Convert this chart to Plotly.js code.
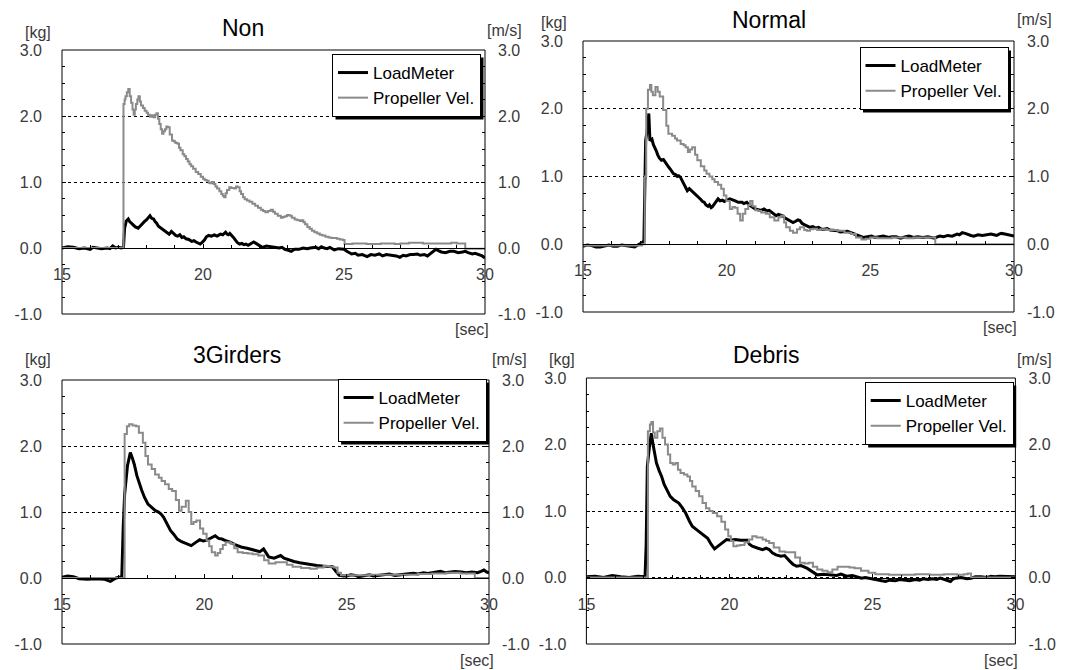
<!DOCTYPE html>
<html>
<head>
<meta charset="utf-8">
<script src="https://cdn.plot.ly/plotly-3.0.1.min.js"></script>
<style>html,body{margin:0;padding:0;background:#fff;}#chart{width:1066px;height:670px;}</style>
</head>
<body>
<div id="chart"></div>
<script>
// ---------------- DATA (time [sec], LoadMeter [kg], Propeller Vel. [m/s]) ----------------
const panelTitles = ["Non", "Normal", "3Girders", "Debris"];
const seriesNames = ["LoadMeter", "Propeller Vel."];
const xTicks = [15, 20, 25, 30];
const yTickVals = [-1, 0, 1, 2, 3];
const yTickText = ["-1.0", "0.0", "1.0", "2.0", "3.0"];

const nonLoadT = [15.0,15.2,15.4,15.6,15.8,16.0,16.1,16.3,16.4,16.6,16.7,16.8,16.9,17.0,17.1,17.18,17.22,17.28,17.35,17.4,17.45,17.52,17.6,17.7,17.78,17.85,17.92,18.0,18.06,18.12,18.18,18.25,18.3,18.35,18.42,18.48,18.55,18.6,18.7,18.8,18.88,18.95,19.03,19.1,19.18,19.25,19.32,19.4,19.5,19.6,19.68,19.75,19.83,19.9,19.98,20.05,20.12,20.2,20.3,20.4,20.5,20.62,20.7,20.8,20.85,20.9,20.95,21.0,21.08,21.15,21.22,21.3,21.38,21.45,21.52,21.6,21.7,21.8,21.88,21.95,22.02,22.1,22.25,22.4,22.55,22.7,22.8,22.9,23.0,23.13,23.25,23.4,23.55,23.7,23.8,23.9,24.0,24.1,24.2,24.3,24.4,24.5,24.66,24.8,24.9,25.0,25.1,25.2,25.27,25.4,25.5,25.65,25.82,25.95,26.1,26.25,26.37,26.5,26.7,26.85,26.98,27.1,27.2,27.35,27.47,27.6,27.7,27.85,27.96,28.05,28.1,28.2,28.26,28.35,28.45,28.6,28.75,28.9,29.05,29.2,29.3,29.4,29.55,29.65,29.8,29.9,30.0];
const nonLoadV = [0.00,0.02,0.01,-0.01,0.00,-0.02,0.01,0.00,-0.01,0.00,-0.01,0.03,0.00,0.01,0.00,0.01,0.30,0.41,0.44,0.40,0.38,0.35,0.32,0.30,0.34,0.36,0.40,0.43,0.46,0.49,0.45,0.44,0.40,0.38,0.33,0.31,0.30,0.28,0.24,0.21,0.25,0.22,0.19,0.18,0.20,0.16,0.17,0.14,0.13,0.10,0.11,0.09,0.07,0.06,0.09,0.12,0.17,0.19,0.18,0.20,0.18,0.21,0.20,0.24,0.21,0.20,0.22,0.19,0.16,0.12,0.08,0.06,0.07,0.05,0.06,0.04,0.07,0.09,0.07,0.05,0.03,0.01,0.03,0.02,0.00,0.00,0.01,-0.02,-0.03,-0.05,-0.02,-0.02,0.00,-0.01,0.00,0.01,0.01,-0.01,0.02,0.00,-0.01,0.01,-0.03,-0.01,-0.02,-0.02,-0.05,-0.07,-0.09,-0.08,-0.11,-0.10,-0.13,-0.10,-0.11,-0.09,-0.12,-0.10,-0.11,-0.12,-0.14,-0.11,-0.12,-0.10,-0.10,-0.09,-0.11,-0.10,-0.12,-0.09,-0.08,-0.04,-0.02,-0.04,-0.06,-0.07,-0.05,-0.05,-0.07,-0.06,-0.05,-0.07,-0.09,-0.08,-0.10,-0.12,-0.15];
const nonPropT = [15.0,17.16,17.18,17.22,17.25,17.3,17.35,17.4,17.45,17.5,17.54,17.58,17.62,17.67,17.71,17.76,17.8,17.87,17.93,18.0,18.05,18.12,18.18,18.24,18.3,18.35,18.4,18.45,18.5,18.55,18.6,18.65,18.7,18.75,18.82,18.9,18.95,19.0,19.05,19.1,19.15,19.2,19.28,19.34,19.4,19.46,19.52,19.58,19.65,19.74,19.83,19.92,20.0,20.06,20.13,20.2,20.25,20.32,20.38,20.44,20.5,20.58,20.65,20.7,20.75,20.8,20.85,20.93,21.0,21.1,21.17,21.23,21.3,21.35,21.42,21.48,21.56,21.65,21.75,21.85,21.95,22.05,22.13,22.21,22.3,22.4,22.48,22.55,22.65,22.76,22.83,22.9,22.98,23.07,23.15,23.25,23.35,23.44,23.5,23.56,23.62,23.7,23.78,23.86,23.95,24.05,24.14,24.23,24.34,24.45,24.55,24.66,24.75,24.85,24.96,25.02,25.3,25.5,25.8,26.0,26.3,26.5,26.8,27.0,27.3,27.5,27.8,28.0,28.3,28.5,28.8,29.0,29.28,29.3,30.0];
const nonPropV = [0.00,0.00,2.18,2.25,2.30,2.36,2.41,2.30,2.20,2.10,2.02,2.10,2.18,2.25,2.30,2.22,2.16,2.12,2.08,2.05,2.02,1.99,2.01,1.98,2.02,2.04,1.96,1.88,1.80,1.73,1.77,1.80,1.84,1.83,1.72,1.63,1.62,1.60,1.59,1.58,1.52,1.48,1.42,1.39,1.35,1.31,1.27,1.24,1.20,1.15,1.12,1.08,1.05,1.03,1.02,0.99,0.98,1.00,0.97,0.93,0.90,0.86,0.82,0.79,0.77,0.83,0.88,0.92,0.91,0.90,0.93,0.92,0.86,0.82,0.77,0.74,0.72,0.70,0.67,0.64,0.61,0.58,0.56,0.54,0.56,0.58,0.55,0.52,0.49,0.46,0.47,0.48,0.50,0.49,0.46,0.43,0.42,0.41,0.42,0.39,0.36,0.32,0.29,0.26,0.24,0.22,0.20,0.19,0.17,0.16,0.15,0.15,0.14,0.13,0.12,0.06,0.07,0.07,0.06,0.06,0.07,0.07,0.06,0.07,0.08,0.08,0.07,0.07,0.07,0.07,0.08,0.07,0.07,-0.01,-0.01];

const normalLoadT = [15.0,15.15,15.3,15.45,15.6,15.75,15.9,16.05,16.2,16.35,16.5,16.65,16.8,16.95,17.05,17.12,17.15,17.18,17.24,17.29,17.33,17.4,17.45,17.5,17.55,17.6,17.66,17.73,17.8,17.85,17.91,17.98,18.05,18.1,18.15,18.22,18.28,18.33,18.39,18.45,18.5,18.57,18.63,18.7,18.75,18.8,18.86,18.93,19.0,19.05,19.1,19.16,19.22,19.28,19.35,19.4,19.46,19.5,19.55,19.62,19.7,19.77,19.85,19.92,19.99,20.05,20.11,20.2,20.3,20.4,20.53,20.6,20.7,20.78,20.85,20.92,21.0,21.1,21.2,21.3,21.4,21.48,21.55,21.6,21.66,21.72,21.8,21.88,21.95,22.02,22.1,22.2,22.31,22.4,22.48,22.55,22.62,22.7,22.8,22.9,23.0,23.1,23.2,23.3,23.38,23.5,23.6,23.72,23.86,23.95,24.1,24.2,24.33,24.45,24.55,24.65,24.75,24.9,25.04,25.15,25.3,25.45,25.64,25.75,25.9,26.05,26.23,26.35,26.5,26.65,26.83,27.0,27.12,27.24,27.33,27.42,27.55,27.7,27.85,28.02,28.1,28.2,28.3,28.4,28.5,28.6,28.75,28.9,29.05,29.2,29.3,29.4,29.48,29.56,29.68,29.8,29.9,30.0];
const normalLoadV = [-0.03,-0.01,-0.02,-0.04,-0.04,-0.02,-0.01,-0.03,-0.03,-0.01,-0.02,-0.03,-0.04,0.00,0.02,0.05,0.69,1.53,1.70,1.93,1.53,1.55,1.47,1.43,1.38,1.32,1.27,1.24,1.25,1.22,1.19,1.14,1.10,1.06,1.04,1.03,1.00,1.01,0.99,0.94,0.90,0.84,0.79,0.82,0.80,0.78,0.77,0.73,0.70,0.68,0.66,0.63,0.62,0.58,0.56,0.58,0.54,0.55,0.58,0.63,0.67,0.64,0.65,0.63,0.64,0.66,0.67,0.65,0.64,0.62,0.62,0.60,0.62,0.58,0.56,0.54,0.52,0.51,0.50,0.52,0.49,0.50,0.48,0.46,0.44,0.42,0.44,0.43,0.42,0.39,0.37,0.35,0.32,0.34,0.36,0.35,0.31,0.29,0.27,0.25,0.26,0.24,0.25,0.22,0.22,0.23,0.21,0.21,0.20,0.18,0.18,0.19,0.17,0.15,0.13,0.11,0.10,0.11,0.12,0.10,0.11,0.12,0.10,0.11,0.11,0.09,0.11,0.12,0.10,0.11,0.10,0.11,0.10,0.09,0.11,0.12,0.11,0.13,0.12,0.15,0.14,0.17,0.16,0.14,0.13,0.12,0.14,0.13,0.14,0.15,0.14,0.13,0.15,0.16,0.15,0.14,0.13,0.12];
const normalPropT = [15.0,16.8,17.05,17.13,17.15,17.2,17.26,17.33,17.38,17.43,17.52,17.6,17.67,17.79,17.9,17.97,18.1,18.2,18.27,18.4,18.5,18.57,18.65,18.72,18.8,18.9,18.98,19.1,19.22,19.3,19.4,19.5,19.58,19.7,19.81,19.9,19.99,20.11,20.2,20.29,20.38,20.47,20.56,20.65,20.75,20.82,20.9,21.0,21.1,21.2,21.36,21.5,21.66,21.8,21.9,22.0,22.07,22.2,22.31,22.45,22.55,22.7,22.79,22.9,23.0,23.15,23.26,23.5,23.7,23.86,24.1,24.33,24.5,24.69,24.85,25.0,25.25,25.5,25.75,26.0,26.25,26.5,26.75,27.0,27.18,27.26,30.0];
const normalPropV = [-0.02,-0.02,0.00,0.00,1.00,2.00,2.28,2.35,2.25,2.20,2.32,2.25,2.18,1.98,1.75,1.63,1.60,1.56,1.53,1.48,1.46,1.43,1.36,1.40,1.43,1.32,1.24,1.15,1.09,1.04,1.00,0.96,0.92,0.88,0.82,0.72,0.64,0.52,0.55,0.54,0.45,0.35,0.45,0.52,0.58,0.64,0.56,0.50,0.49,0.47,0.45,0.40,0.35,0.40,0.42,0.32,0.25,0.20,0.17,0.22,0.25,0.21,0.20,0.22,0.23,0.21,0.22,0.21,0.21,0.20,0.17,0.15,0.10,0.07,0.08,0.10,0.09,0.09,0.10,0.10,0.09,0.10,0.10,0.10,0.10,0.00,0.00];

const girdersLoadT = [15.0,15.2,15.4,15.6,15.9,16.2,16.5,16.7,16.9,17.1,17.15,17.2,17.3,17.4,17.47,17.54,17.63,17.72,17.8,17.9,18.02,18.15,18.28,18.39,18.48,18.57,18.7,18.81,18.93,19.05,19.2,19.35,19.45,19.54,19.7,19.84,19.96,20.08,20.25,20.38,20.5,20.62,20.78,20.93,21.1,21.29,21.5,21.77,21.95,22.08,22.18,22.26,22.45,22.68,22.8,22.98,23.15,23.35,23.6,23.95,24.2,24.5,24.62,24.74,24.9,25.0,25.15,25.3,25.42,25.52,25.65,25.8,25.95,26.13,26.3,26.5,26.7,26.9,27.1,27.34,27.5,27.7,27.85,28.0,28.15,28.3,28.45,28.6,28.8,29.03,29.2,29.4,29.6,29.72,29.82,29.92,30.0];
const girdersLoadV = [0.01,0.03,0.02,-0.01,-0.02,-0.01,-0.02,-0.05,0.00,0.02,0.77,1.27,1.70,1.90,1.82,1.72,1.55,1.42,1.33,1.22,1.12,1.07,1.02,1.00,0.97,0.92,0.82,0.72,0.66,0.59,0.55,0.52,0.50,0.49,0.54,0.58,0.56,0.57,0.61,0.64,0.60,0.59,0.56,0.54,0.50,0.47,0.45,0.42,0.40,0.44,0.38,0.32,0.30,0.34,0.30,0.27,0.25,0.23,0.21,0.19,0.18,0.17,0.10,0.04,0.03,0.03,0.05,0.04,0.02,0.03,0.04,0.05,0.03,0.04,0.05,0.06,0.04,0.05,0.06,0.07,0.06,0.08,0.07,0.08,0.10,0.10,0.08,0.09,0.10,0.09,0.08,0.09,0.08,0.10,0.12,0.09,0.08];
const girdersPropT = [15.0,17.17,17.2,17.28,17.36,17.48,17.6,17.7,17.84,17.93,18.02,18.15,18.27,18.4,18.5,18.62,18.75,18.87,19.0,19.11,19.2,19.35,19.45,19.54,19.62,19.72,19.85,19.96,20.08,20.17,20.26,20.38,20.47,20.56,20.65,20.75,20.93,21.05,21.17,21.35,21.53,21.7,21.9,22.1,22.26,22.5,22.74,22.9,23.1,23.4,23.71,23.95,24.19,24.4,24.56,24.68,24.8,25.2,25.8,26.5,27.0,27.5,28.0,28.5,29.0,29.45,29.5,30.0];
const girdersPropV = [0.00,0.00,2.18,2.30,2.33,2.31,2.30,2.20,2.05,1.85,1.72,1.65,1.57,1.52,1.47,1.42,1.35,1.32,1.18,1.02,1.08,1.17,1.00,0.82,0.85,0.87,0.75,0.67,0.57,0.48,0.39,0.34,0.38,0.44,0.50,0.54,0.52,0.45,0.39,0.38,0.37,0.36,0.34,0.27,0.22,0.24,0.24,0.20,0.17,0.15,0.14,0.16,0.18,0.17,0.16,0.08,0.04,0.04,0.05,0.05,0.05,0.06,0.07,0.08,0.07,0.07,0.00,0.00];

const debrisLoadT = [15.0,15.3,15.6,15.9,16.2,16.5,16.8,17.05,17.09,17.13,17.2,17.27,17.33,17.4,17.45,17.55,17.63,17.72,17.81,17.93,18.05,18.15,18.23,18.35,18.47,18.6,18.7,18.85,19.0,19.12,19.24,19.36,19.48,19.57,19.66,19.78,19.9,20.05,20.2,20.4,20.62,20.7,20.8,21.0,21.16,21.28,21.39,21.5,21.63,21.8,21.93,22.1,22.22,22.35,22.5,22.71,22.9,23.07,23.3,23.55,23.75,23.9,24.1,24.3,24.62,24.75,24.9,25.05,25.2,25.33,25.46,25.6,25.8,25.95,26.17,26.3,26.5,26.65,26.77,26.95,27.1,27.25,27.37,27.55,27.65,27.73,27.8,27.9,28.1,28.3,28.45,28.6,28.8,29.0,29.15,29.28,29.45,29.6,29.8,30.0];
const debrisLoadV = [0.01,0.02,0.00,0.03,0.01,0.00,0.02,0.01,0.50,1.67,1.95,2.17,2.00,1.85,1.72,1.60,1.52,1.40,1.32,1.22,1.17,1.14,1.12,1.05,0.97,0.85,0.77,0.72,0.67,0.62,0.59,0.50,0.43,0.46,0.49,0.54,0.57,0.56,0.57,0.56,0.56,0.50,0.47,0.44,0.42,0.44,0.42,0.37,0.34,0.32,0.33,0.25,0.20,0.17,0.18,0.14,0.08,0.04,0.05,0.04,0.03,0.05,0.02,0.03,-0.01,0.00,-0.01,-0.03,-0.04,-0.05,-0.06,-0.04,-0.05,-0.03,-0.04,-0.05,-0.03,-0.04,-0.02,-0.03,-0.02,-0.03,-0.01,-0.03,-0.05,-0.06,-0.03,-0.01,0.00,-0.02,-0.01,0.01,0.01,0.00,0.02,0.01,0.02,0.02,0.01,0.01];
const debrisPropT = [15.0,17.13,17.15,17.22,17.27,17.33,17.39,17.48,17.57,17.66,17.75,17.85,17.93,18.02,18.11,18.2,18.29,18.41,18.53,18.62,18.7,18.82,18.94,19.06,19.18,19.3,19.42,19.57,19.72,19.85,19.96,20.05,20.14,20.26,20.38,20.53,20.68,20.8,20.95,21.16,21.28,21.39,21.55,21.75,21.95,22.11,22.3,22.47,22.63,22.77,22.92,23.07,23.25,23.43,23.6,23.78,24.0,24.2,24.38,24.6,24.86,25.1,25.58,26.0,26.5,27.0,27.5,27.97,28.2,28.33,28.45,30.0];
const debrisPropV = [0.00,0.00,2.20,2.30,2.34,2.18,2.10,2.20,2.24,2.10,2.00,1.85,1.72,1.70,1.72,1.62,1.57,1.55,1.52,1.45,1.37,1.30,1.22,1.12,1.04,1.00,0.97,0.92,0.84,0.72,0.62,0.55,0.47,0.48,0.49,0.53,0.57,0.62,0.60,0.57,0.55,0.52,0.45,0.39,0.38,0.38,0.30,0.22,0.21,0.22,0.16,0.12,0.10,0.08,0.12,0.16,0.16,0.15,0.14,0.10,0.07,0.05,0.04,0.04,0.05,0.04,0.05,0.04,0.05,0.06,0.00,0.00];

// ---------------- LAYOUT (pixel geometry of the 1066x670 page) ----------------
const W = 1066, H = 670;
const px = v => v / W;
const py = v => 1 - v / H;
const FONT = "Arial, 'Liberation Sans', sans-serif";

const panels = [
  {title: panelTitles[0], load: [nonLoadT, nonLoadV], prop: [nonPropT, nonPropV],
   box: [62, 485, 50, 314], leg: [481, 54], ttl: [243, 28], kg: [37.5, 32], ms: [504, 30], sec: [471.5, 329]},
  {title: panelTitles[1], load: [normalLoadT, normalLoadV], prop: [normalPropT, normalPropV],
   box: [583, 1014, 41, 312], leg: [1008.5, 47], ttl: [769, 20], kg: [554, 22], ms: [1034, 20], sec: [1000, 327]},
  {title: panelTitles[2], load: [girdersLoadT, girdersLoadV], prop: [girdersPropT, girdersPropV],
   box: [62, 489, 380, 644], leg: [486.6, 379], ttl: [237, 355], kg: [38, 359], ms: [509, 359], sec: [476.5, 660]},
  {title: panelTitles[3], load: [debrisLoadT, debrisLoadV], prop: [debrisPropT, debrisPropV],
   box: [586.4, 1015.4, 378, 644], leg: [1013.7, 382], ttl: [766, 355], kg: [562, 359], ms: [1034, 359], sec: [1001, 660]}
];

const traces = [];
const layout = {
  width: W, height: H,
  margin: {l: 0, r: 0, t: 0, b: 0, pad: 0},
  paper_bgcolor: "#ffffff", plot_bgcolor: "#ffffff",
  font: {family: FONT, color: "#000"},
  showlegend: true,
  shapes: [], annotations: []
};

const tickFont = {family: FONT, size: 16, color: "#3a3a3a"};

panels.forEach((p, i) => {
  const n = i + 1;
  const xa = n === 1 ? "x" : "x" + n;
  const yL = 2 * i + 1, yR = 2 * i + 2;
  const yaL = yL === 1 ? "y" : "y" + yL;
  const yaR = "y" + yR;
  const legId = n === 1 ? "legend" : "legend" + n;
  const [x0, x1, y0, y1] = p.box;
  const zeroPx = y0 + 0.75 * (y1 - y0);

  traces.push({
    x: p.prop[0], y: p.prop[1], xaxis: xa, yaxis: yaR, type: "scatter", mode: "lines",
    name: seriesNames[1], legend: legId, legendrank: 2,
    line: {color: "#8a8a8a", width: 2, shape: "hv"}, hoverinfo: "skip"
  });
  traces.push({
    x: p.load[0], y: p.load[1], xaxis: xa, yaxis: yaL, type: "scatter", mode: "lines",
    name: seriesNames[0], legend: legId, legendrank: 1,
    line: {color: "#000000", width: 3}, hoverinfo: "skip"
  });

  layout["xaxis" + (n === 1 ? "" : n)] = {
    domain: [px(x0), px(x1)], range: [15, 30], anchor: "free", position: py(zeroPx),
    tickvals: xTicks, ticks: "inside", ticklen: 4, tickcolor: "#000", tickwidth: 1,
    minor: {dtick: 1, tick0: 15, ticks: "inside", ticklen: 3, tickcolor: "#000", showgrid: false},
    showline: true, linecolor: "#000", linewidth: 1, showgrid: false, zeroline: false,
    tickfont: tickFont, ticklabelstandoff: 12, fixedrange: true
  };
  layout["yaxis" + (yL === 1 ? "" : yL)] = {
    domain: [py(y1), py(y0)], range: [-1, 3], anchor: xa,
    tickvals: yTickVals, ticktext: yTickText, ticks: "inside", ticklen: 4, tickcolor: "#000",
    minor: {dtick: 0.25, tick0: 0, ticks: "inside", ticklen: 3, tickcolor: "#000", showgrid: false},
    showgrid: true, gridcolor: "#000", gridwidth: 1, griddash: "3px,3px",
    zeroline: false, showline: false, tickfont: tickFont, ticklabelstandoff: 19, fixedrange: true
  };
  layout["yaxis" + yR] = {
    overlaying: yaL, side: "right", anchor: xa, range: [-1, 3],
    tickvals: yTickVals, ticktext: yTickText, ticks: "inside", ticklen: 4, tickcolor: "#000",
    minor: {dtick: 0.25, tick0: 0, ticks: "inside", ticklen: 3, tickcolor: "#000", showgrid: false},
    showgrid: false, zeroline: false, showline: false, tickfont: tickFont, ticklabelstandoff: 12, fixedrange: true
  };
  layout[legId] = {
    x: px(p.leg[0]), y: py(p.leg[1]), xanchor: "right", yanchor: "top",
    xref: "paper", yref: "paper",
    bgcolor: "#ffffff", bordercolor: "#000", borderwidth: 1,
    font: {family: FONT, size: 17, color: "#000"}, itemwidth: 30, tracegroupgap: 0
  };
  // plot frame
  layout.shapes.push({type: "rect", xref: xa + " domain", yref: yaL + " domain", x0: 0, x1: 1, y0: 0, y1: 1,
    line: {color: "#000", width: 1}, fillcolor: "rgba(0,0,0,0)", layer: "above"});
  // titles and unit labels
  layout.annotations.push(
    {text: p.title, x: px(p.ttl[0]), y: py(p.ttl[1]), xref: "paper", yref: "paper", showarrow: false,
     xanchor: "center", yanchor: "middle", font: {family: FONT, size: 23, color: "#000"}},
    {text: "[kg]", x: px(p.kg[0]), y: py(p.kg[1]), xref: "paper", yref: "paper", showarrow: false,
     xanchor: "center", yanchor: "middle", font: {family: FONT, size: 16, color: "#3a3a3a"}},
    {text: "[m/s]", x: px(p.ms[0]), y: py(p.ms[1]), xref: "paper", yref: "paper", showarrow: false,
     xanchor: "center", yanchor: "middle", font: {family: FONT, size: 16, color: "#3a3a3a"}},
    {text: "[sec]", x: px(p.sec[0]), y: py(p.sec[1]), xref: "paper", yref: "paper", showarrow: false,
     xanchor: "center", yanchor: "middle", font: {family: FONT, size: 16, color: "#3a3a3a"}}
  );
});

const gd = document.getElementById("chart");
Plotly.newPlot(gd, traces, layout, {staticPlot: true, displayModeBar: false}).then(() => {
  // drop shadow behind each legend box (offset 3px right/down)
  const gRect = gd.getBoundingClientRect();
  const shadows = [];
  ["legend", "legend2", "legend3", "legend4"].forEach(id => {
    const bg = gd.querySelector("g." + id + " rect.bg");
    if (!bg) return;
    const r = bg.getBoundingClientRect();
    const L = r.left - gRect.left, T = r.top - gRect.top;
    shadows.push({type: "rect", xref: "paper", yref: "paper",
      x0: px(L + 3), x1: px(L + r.width + 3), y0: py(T + r.height + 3), y1: py(T + 3),
      line: {width: 0}, fillcolor: "#000", layer: "above"});
  });
  return Plotly.relayout(gd, {shapes: layout.shapes.concat(shadows)});
});
</script>
</body>
</html>
